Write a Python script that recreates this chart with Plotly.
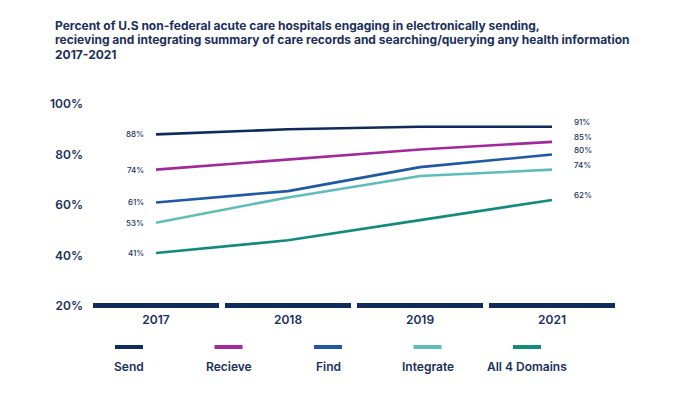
import plotly.graph_objects as go

years = ["2017", "2018", "2019", "2021"]
series_names = ["Send", "Recieve", "Find", "Integrate", "All 4 Domains"]
send = [88, 90, 91, 91]
recieve = [74, 78, 82, 85]
find = [61, 65.5, 75, 80]
integrate = [53, 63, 71.5, 74]
all4 = [41, 46, 54, 62]
y_ticks = [20, 40, 60, 80, 100]
y_tick_labels = ["20%", "40%", "60%", "80%", "100%"]
title_lines = [
    "Percent of U.S non-federal acute care hospitals engaging in electronically sending,",
    "recieving and integrating summary of care records and searching/querying any health information",
    "2017-2021",
]

series_values = [send, recieve, find, integrate, all4]
colors = ["#0f2b5b", "#a2289e", "#1f59a4", "#5dbdb8", "#148a7e"]
navy = "#1b2f5b"
FONT = "Inter"

# layout geometry (browser body adds an 8px offset)
OFF = 8
ML, MT, PW, PH = 82, 91, 528, 212
MR = 700 - ML - PW
MB = 393 - MT - PH


def px_x(px):
    return (px - OFF - ML) / PW


def px_y(py):
    return (MT + PH - (py - OFF)) / PH


fig = go.Figure()

# axis baseline bars (one per category)
fig.add_trace(go.Bar(x=years, y=[2] * len(years), base=[19] * len(years), width=0.955,
                     marker=dict(color="#0f2b5b", line=dict(width=0)), hoverinfo="skip",
                     showlegend=False))

for name, vals, c in zip(series_names, series_values, colors):
    fig.add_trace(go.Scatter(x=years, y=vals, mode="lines", name=name,
                             line=dict(color=c, width=2.6), showlegend=False))

annotations = []
last = len(years) - 1
for vals in series_values:
    annotations.append(dict(x=0, y=vals[0], xref="x", yref="y", text=f"{vals[0]:g}%",
                            showarrow=False, xanchor="right", yanchor="middle", xshift=-10,
                            font=dict(family=FONT, size=8, color=navy, weight=500)))
    annotations.append(dict(x=last, y=vals[-1], xref="x", yref="y", text=f"{vals[-1]:g}%",
                            showarrow=False, xanchor="left", yanchor="middle", xshift=20, yshift=5,
                            font=dict(family=FONT, size=8, color=navy, weight=500)))

# title lines
for i, line in enumerate(title_lines):
    annotations.append(dict(x=px_x(53), y=px_y(25 + i * 14.5), xref="paper", yref="paper",
                            text=line, showarrow=False, xanchor="left", yanchor="middle",
                            font=dict(family=FONT, size=12, color=navy, weight="bold")))

# custom legend below the chart
shapes = []
for i, (name, c) in enumerate(zip(series_names, colors)):
    cx = 129 + i * 99.5
    shapes.append(dict(type="line", xref="paper", yref="paper", x0=px_x(cx - 14), x1=px_x(cx + 14),
                       y0=px_y(347), y1=px_y(347), line=dict(color=c, width=4)))
    annotations.append(dict(x=px_x(cx), y=px_y(366), xref="paper", yref="paper",
                            text=name, showarrow=False, xanchor="center", yanchor="middle",
                            font=dict(family=FONT, size=12, color=navy, weight=600)))

fig.update_layout(
    width=700, height=393,
    margin=dict(l=ML, r=MR, t=MT, b=MB),
    paper_bgcolor="white", plot_bgcolor="white",
    xaxis=dict(type="category", range=[-0.5, 3.5], showgrid=False, zeroline=False,
               showline=False, ticks="", tickfont=dict(family=FONT, size=12, color=navy, weight=600)),
    yaxis=dict(range=[18, 102], tickvals=y_ticks, ticktext=y_tick_labels, showgrid=False,
               zeroline=False, showline=False, ticks="", ticklabelstandoff=6,
               tickfont=dict(family=FONT, size=12, color=navy, weight=600)),
    showlegend=False,
    annotations=annotations,
    shapes=shapes,
    bargap=0,
)

fig.write_html("out.html")
